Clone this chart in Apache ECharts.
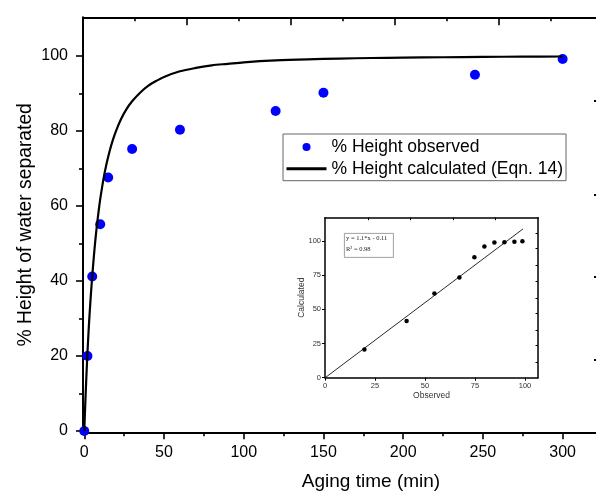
<!DOCTYPE html>
<html>
<head>
<meta charset="utf-8">
<script src="https://cdn.jsdelivr.net/npm/echarts@6/dist/echarts.min.js"></script>
<style>html,body{margin:0;padding:0;background:#fff}#c{width:596px;height:493px}</style>
</head>
<body>
<div id="c"></div>
<script>
// ---- main chart data ----
const timeObs = [0, 2, 5, 10, 15, 30, 60, 120, 150, 245, 300];
const heightObs = [0, 20, 41.2, 55.1, 67.6, 75.2, 80.3, 85.3, 90.2, 95, 99.2];
const timeCalc = [0, 0.5, 1, 1.5, 2, 3, 4, 5, 6, 7, 8, 9, 10, 12, 14, 16, 18, 20, 23, 26, 30, 35, 40, 45, 50, 60, 70, 80, 90, 100, 120, 140, 160, 180, 200, 225, 250, 275, 300];
const heightCalc = [0, 5.9, 11.3, 16.3, 20.9, 28.9, 35.5, 41.3, 46.5, 51.1, 55.1, 58.6, 61.8, 67.1, 71.3, 74.8, 77.7, 80.1, 83.1, 85.5, 87.9, 90.2, 92.0, 93.3, 94.4, 95.9, 96.8, 97.5, 97.9, 98.3, 98.8, 99.1, 99.3, 99.45, 99.55, 99.65, 99.75, 99.8, 99.85];
const xTicks = [0, 50, 100, 150, 200, 250, 300];
const xMinorTicks = [25, 75, 125, 175, 225, 275];
const yTicks = [0, 20, 40, 60, 80, 100];
const yMinorTicks = [10, 30, 50, 70, 90];
const topLongTicks = [1, 3, 5, 7];
const topShortTicks = [0, 2, 4, 6, 8];
const rightTicks = [19, 41.1, 63.1, 88];
// ---- inset data ----
const insetObserved = [19.7, 40.8, 54.7, 67.2, 74.7, 79.7, 84.7, 89.7, 94.7, 98.7];
const insetCalculated = [20.7, 41.5, 61.5, 73.2, 88, 95.9, 98.8, 99, 99.5, 99.8];
const fitX = [0, 99];
const fitY = [-0.11, 108.8];
const insetTicks = [0, 25, 50, 75, 100];
const insetTopTicks = [21.7, 42.5, 64.2, 85];
const insetRightTicks = [11.6, 23.9, 34.9, 47.1, 58.1, 70.3, 82.5, 94.7, 105.6];

const FONT = 'Liberation Sans, Arial, sans-serif';
const chart = echarts.init(document.getElementById('c'), null, {renderer: 'canvas'});

const black = '#000';
function tickAxis(extra) {
  return Object.assign({
    type: 'value', splitLine: {show: false},
    axisLine: {show: false, onZero: false},
    axisLabel: {show: false},
    axisPointer: {show: false},
    nameMoveOverlap: false
  }, extra);
}

const option = {
  animation: false,
  backgroundColor: '#fff',
  grid: [
    {left: 83, top: 17.3, width: 516, height: 415, outerBoundsMode: 'none', containLabel: false},
    {left: 325, top: 217.7, width: 213, height: 160, outerBoundsMode: 'none', containLabel: false}
  ],
  legend: {
    left: 283, top: 134, orient: 'vertical',
    data: [
      {name: '% Height observed', icon: 'circle'},
      {name: '% Height calculated (Eqn. 14)', lineStyle: {width: 3}, itemStyle: {opacity: 0}}
    ],
    itemWidth: 40, itemHeight: 8, itemGap: 1.7,
    padding: [3, 3, 2, 2],
    borderColor: '#666', borderWidth: 1, backgroundColor: '#fff',
    textStyle: {fontFamily: FONT, fontSize: 17.5, color: black, lineHeight: 20}
  },
  xAxis: [
    tickAxis({gridIndex: 0, position: 'bottom', min: -0.8, max: 322.8,
      axisLine: {show: true, onZero: false, lineStyle: {color: black, width: 2}},
      axisTick: {show: true, length: 7, lineStyle: {color: black, width: 1.6}, customValues: xTicks},
      axisLabel: {show: true, customValues: xTicks, margin: 12, color: black, fontFamily: FONT, fontSize: 16},
      name: 'Aging time (min)', nameLocation: 'middle', nameGap: 40,
      nameTextStyle: {fontFamily: FONT, fontSize: 19, color: black, padding: [0, 0, 0, 60]}
    }),
    tickAxis({gridIndex: 0, position: 'bottom', min: -0.8, max: 322.8,
      axisTick: {show: true, length: 4, lineStyle: {color: black, width: 1.6}, customValues: xMinorTicks}
    }),
    tickAxis({gridIndex: 0, position: 'top', min: -0.985, max: 8.923,
      axisLine: {show: true, onZero: false, lineStyle: {color: black, width: 2}},
      axisTick: {show: true, inside: true, length: 8, lineStyle: {color: black, width: 1.6}, customValues: topLongTicks}
    }),
    tickAxis({gridIndex: 0, position: 'top', min: -0.985, max: 8.923,
      axisTick: {show: true, inside: true, length: 4, lineStyle: {color: black, width: 1.6}, customValues: topShortTicks}
    }),
    tickAxis({gridIndex: 1, position: 'bottom', min: 0, max: 106.5,
      axisLine: {show: true, onZero: false, lineStyle: {color: black, width: 1.5}},
      axisTick: {show: true, length: 3, lineStyle: {color: black, width: 1}, customValues: insetTicks},
      axisLabel: {show: true, customValues: insetTicks, margin: 4, color: '#333', fontFamily: FONT, fontSize: 7.5},
      name: 'Observed', nameLocation: 'middle', nameGap: 13.5,
      nameTextStyle: {fontFamily: FONT, fontSize: 8.5, color: '#333'}
    }),
    tickAxis({gridIndex: 1, position: 'top', min: 0, max: 106.5,
      axisLine: {show: true, onZero: false, lineStyle: {color: black, width: 1.5}},
      axisTick: {show: true, inside: true, length: 2.5, lineStyle: {color: black, width: 1}, customValues: insetTopTicks}
    })
  ],
  yAxis: [
    tickAxis({gridIndex: 0, position: 'left', min: -0.35, max: 110.3,
      axisLine: {show: true, onZero: false, lineStyle: {color: black, width: 2}},
      axisTick: {show: true, length: 7, lineStyle: {color: black, width: 1.6}, customValues: yTicks},
      axisLabel: {show: true, customValues: yTicks, margin: 15, color: black, fontFamily: FONT, fontSize: 16},
      name: '% Height of water separated', nameLocation: 'middle', nameGap: 48,
      nameTextStyle: {fontFamily: FONT, fontSize: 19.3, color: black}
    }),
    tickAxis({gridIndex: 0, position: 'left', min: -0.35, max: 110.3,
      axisTick: {show: true, length: 4, lineStyle: {color: black, width: 1.6}, customValues: yMinorTicks}
    }),
    tickAxis({gridIndex: 0, position: 'right', min: -0.35, max: 110.3,
      axisTick: {show: true, inside: true, length: 5, lineStyle: {color: black, width: 2}, customValues: rightTicks}
    }),
    tickAxis({gridIndex: 1, position: 'left', min: 0, max: 117,
      axisLine: {show: true, onZero: false, lineStyle: {color: black, width: 1.5}},
      axisTick: {show: true, length: 3, lineStyle: {color: black, width: 1}, customValues: insetTicks},
      axisLabel: {show: true, customValues: insetTicks, margin: 4, color: '#333', fontFamily: FONT, fontSize: 7.5},
      name: 'Calculated', nameLocation: 'middle', nameGap: 19,
      nameTextStyle: {fontFamily: FONT, fontSize: 8.5, color: '#333'}
    }),
    tickAxis({gridIndex: 1, position: 'right', min: 0, max: 117,
      axisLine: {show: true, onZero: false, lineStyle: {color: black, width: 1.5}},
      axisTick: {show: true, inside: true, length: 2.5, lineStyle: {color: black, width: 1}, customValues: insetRightTicks}
    })
  ],
  series: [
    {
      name: '% Height observed', type: 'scatter', xAxisIndex: 0, yAxisIndex: 0,
      symbol: 'circle', symbolSize: 10, itemStyle: {color: '#0000ff', opacity: 1}, z: 3,
      data: timeObs.map((t, i) => [t, heightObs[i]])
    },
    {
      name: '% Height calculated (Eqn. 14)', type: 'line', xAxisIndex: 0, yAxisIndex: 0,
      symbol: 'none', showSymbol: false, smooth: 0.3,
      lineStyle: {color: black, width: 2.2}, itemStyle: {color: black}, z: 4,
      data: timeCalc.map((t, i) => [t, heightCalc[i]])
    },
    {
      name: 'inset points', type: 'scatter', xAxisIndex: 4, yAxisIndex: 3,
      symbol: 'circle', symbolSize: 4.5, itemStyle: {color: black, opacity: 1}, z: 5,
      data: insetObserved.map((o, i) => [o, insetCalculated[i]])
    },
    {
      name: 'inset fit', type: 'line', xAxisIndex: 4, yAxisIndex: 3,
      symbol: 'none', showSymbol: false, clip: true,
      lineStyle: {color: '#111', width: 0.9}, z: 5,
      data: fitX.map((x, i) => [x, fitY[i]])
    }
  ],
  graphic: [
    {type: 'rect', left: 344, top: 233, shape: {width: 49, height: 24},
      style: {fill: '#fff', stroke: '#888', lineWidth: 0.8}, z: 10},
    {type: 'text', left: 346, top: 234.5,
      style: {text: 'y = 1.1*x - 0.11', font: '6.5px "Liberation Serif", serif', fill: '#222'}, z: 11},
    {type: 'text', left: 346, top: 246,
      style: {text: 'R\u00b2 = 0.98', font: '6.5px "Liberation Serif", serif', fill: '#222'}, z: 11}
  ]
};
chart.setOption(option);
</script>
</body>
</html>
